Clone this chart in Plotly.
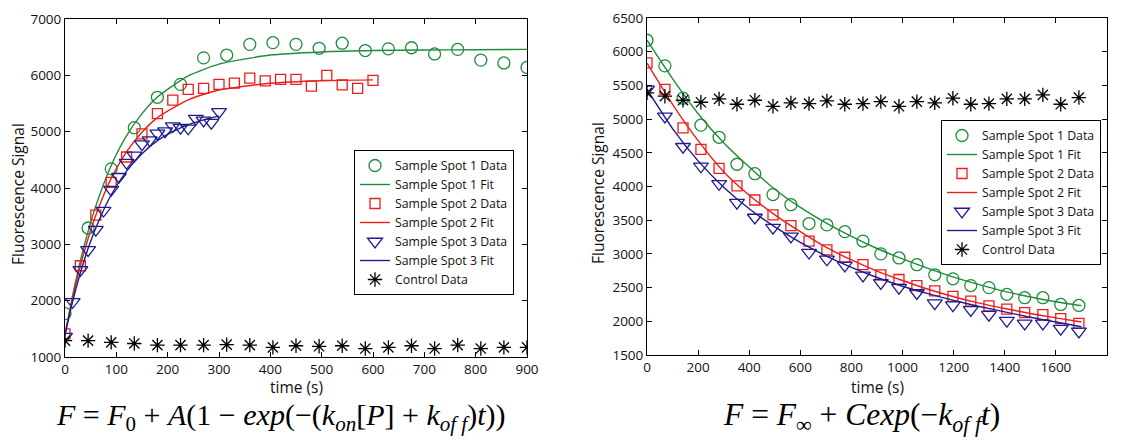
import plotly.graph_objects as go

# ---------------- Left panel (association) ----------------
t_spot1 = [0, 45, 90, 135, 180, 225, 270, 315, 360, 405, 450, 495, 540, 585, 630, 675, 720, 765, 810, 855, 900]
spot1 = [1770, 3290, 4340, 5070, 5610, 5840, 6310, 6360, 6550, 6580, 6550, 6480, 6570, 6440, 6470, 6490, 6380, 6460, 6270, 6220, 6140]
t_spot2 = [0, 30, 60, 90, 120, 150, 180, 210, 240, 270, 300, 330, 360, 390, 420, 450, 480, 510, 540, 570, 600]
spot2 = [1410, 2620, 3520, 4100, 4550, 4960, 5320, 5560, 5750, 5770, 5840, 5860, 5950, 5900, 5930, 5930, 5810, 6000, 5830, 5770, 5910]
t_spot3 = [0, 15, 30, 45, 60, 75, 90, 105, 120, 135, 150, 165, 180, 195, 210, 225, 240, 255, 270, 285, 300]
spot3 = [1360, 1980, 2545, 2900, 3260, 3600, 3970, 4200, 4450, 4580, 4780, 4850, 4970, 5010, 5100, 5070, 5060, 5230, 5200, 5160, 5350]
t_ctrl_l = [0, 45, 90, 135, 180, 225, 270, 315, 360, 405, 450, 495, 540, 585, 630, 675, 720, 765, 810, 855, 900]
ctrl_l = [1290, 1290, 1260, 1240, 1210, 1210, 1210, 1220, 1210, 1170, 1200, 1190, 1200, 1150, 1170, 1200, 1150, 1210, 1150, 1170, 1170]

t_fit1 = [0, 15, 30, 45, 60, 90, 120, 150, 180, 240, 300, 400, 500, 600, 700, 800, 900]
fit1 = [1400, 2100, 2710, 3230, 3680, 4400, 4930, 5320, 5615, 5990, 6200, 6360, 6415, 6440, 6450, 6455, 6460]
t_fit2 = [0, 15, 30, 45, 60, 90, 120, 150, 180, 240, 300, 400, 500, 600]
fit2 = [1400, 2060, 2620, 3105, 3515, 4170, 4645, 4990, 5250, 5565, 5740, 5860, 5905, 5920]
t_fit3 = [0, 15, 30, 45, 60, 90, 120, 150, 180, 210, 240, 270, 300]
fit3 = [1400, 1990, 2495, 2925, 3290, 3880, 4300, 4610, 4840, 5000, 5125, 5210, 5280]

# ---------------- Right panel (dissociation) ----------------
t_r = [0, 70, 141, 211, 282, 352, 422, 493, 563, 634, 704, 774, 845, 915, 986, 1056, 1126, 1197, 1267, 1338, 1408, 1478, 1549, 1619, 1690]
r_spot1 = [6170, 5790, 5310, 4910, 4730, 4330, 4190, 3880, 3730, 3450, 3430, 3330, 3190, 3000, 2940, 2840, 2690, 2630, 2530, 2500, 2400, 2350, 2350, 2250, 2235]
r_spot2 = [5835, 5440, 4870, 4550, 4270, 4010, 3800, 3580, 3420, 3190, 3060, 2950, 2840, 2690, 2620, 2530, 2450, 2370, 2300, 2230, 2180, 2130, 2100, 2040, 1970]
r_spot3 = [5440, 5040, 4590, 4300, 4040, 3760, 3540, 3390, 3260, 3020, 2920, 2830, 2680, 2570, 2500, 2420, 2270, 2240, 2170, 2100, 2010, 1970, 1970, 1890, 1850]
r_ctrl = [5390, 5340, 5280, 5250, 5300, 5220, 5280, 5190, 5240, 5230, 5270, 5220, 5230, 5260, 5190, 5260, 5240, 5310, 5220, 5230, 5300, 5300, 5360, 5220, 5320]

t_rfit = [0, 100, 200, 300, 400, 500, 600, 700, 800, 900, 1000, 1100, 1200, 1300, 1400, 1500, 1600, 1700]
r_fit1 = [6170, 5600, 5080, 4650, 4290, 3960, 3690, 3460, 3260, 3080, 2925, 2785, 2655, 2545, 2445, 2360, 2290, 2230]
r_fit2 = [5830, 5220, 4680, 4220, 3870, 3580, 3330, 3100, 2910, 2745, 2605, 2475, 2365, 2270, 2190, 2115, 2050, 1990]
r_fit3 = [5440, 4860, 4380, 3990, 3670, 3400, 3170, 2970, 2800, 2650, 2520, 2410, 2310, 2220, 2140, 2060, 1990, 1920]

names = ["Sample Spot 1 Data", "Sample Spot 1 Fit", "Sample Spot 2 Data", "Sample Spot 2 Fit",
         "Sample Spot 3 Data", "Sample Spot 3 Fit", "Control Data"]

GREEN = "#1f8c3b"
RED = "#f01c1c"
BLUE = "#1c1c8e"
BLACK = "#000000"
FONT = "Open Sans"

fig = go.Figure()


def add_panel(xa, ya, leg, d1, f1, d2, f2, d3, f3, ctrl):
    def sc(x, y, name, color, symbol, size):
        fig.add_trace(go.Scatter(
            x=x, y=y, name=name, mode="markers", xaxis=xa, yaxis=ya, legend=leg,
            marker=dict(symbol=symbol, size=size, color=color,
                        line=dict(color=color, width=1.3))))

    def ln(x, y, name, color):
        fig.add_trace(go.Scatter(
            x=x, y=y, name=name, mode="lines", xaxis=xa, yaxis=ya, legend=leg,
            line=dict(color=color, width=1.4, shape="spline", smoothing=0.6)))

    sc(d1[0], d1[1], names[0], GREEN, "circle-open", 12)
    ln(f1[0], f1[1], names[1], GREEN)
    sc(d2[0], d2[1], names[2], RED, "square-open", 10)
    ln(f2[0], f2[1], names[3], RED)
    sc(d3[0], d3[1], names[4], BLUE, "triangle-down-open", 13)
    ln(f3[0], f3[1], names[5], BLUE)
    sc(ctrl[0], ctrl[1], names[6], BLACK, "asterisk-open", 12)


add_panel("x", "y", "legend",
          (t_spot1, spot1), (t_fit1, fit1), (t_spot2, spot2), (t_fit2, fit2),
          (t_spot3, spot3), (t_fit3, fit3), (t_ctrl_l, ctrl_l))
add_panel("x2", "y2", "legend2",
          (t_r, r_spot1), (t_rfit, r_fit1), (t_r, r_spot2), (t_rfit, r_fit2),
          (t_r, r_spot3), (t_rfit, r_fit3), (t_r, r_ctrl))

# The page body adds an 8px margin; lay out in window pixels and convert.
OFF = 8
W, H = 1122 - OFF, 440 - OFF


def px(x):
    return (x - OFF) / W


def py(y):
    return 1 - (y - OFF) / H


axis_common = dict(showline=True, linecolor="black", linewidth=1, mirror="ticks",
                   ticks="inside", ticklen=5, tickcolor="black", showgrid=False,
                   zeroline=False, automargin=False,
                   tickfont=dict(family=FONT, size=13.5, color="#111"))

legend_common = dict(bordercolor="black", borderwidth=1, bgcolor="white",
                     font=dict(family=FONT, size=12.3, color="#111"),
                     xanchor="left", yanchor="top", tracegroupgap=0, itemwidth=30)

TITLE_FONT = dict(family=FONT, size=15.5, color="#111")

fig.update_layout(
    width=W, height=H,
    margin=dict(l=0, r=0, t=0, b=0, autoexpand=False),
    paper_bgcolor="white", plot_bgcolor="white",
    showlegend=True,
    xaxis=dict(domain=[px(65), px(527)], range=[0, 900], dtick=100, tick0=0,
               anchor="y", **axis_common),
    yaxis=dict(domain=[py(357), py(19)], range=[1000, 7000], dtick=1000, tick0=0,
               anchor="x", **axis_common),
    xaxis2=dict(domain=[px(647), px(1107)], range=[0, 1800], dtick=200, tick0=0,
                anchor="y2", **axis_common),
    yaxis2=dict(domain=[py(355), py(18)], range=[1500, 6500], dtick=500, tick0=0,
                anchor="x2", **axis_common),
    legend=dict(x=px(354), y=py(150), **legend_common),
    legend2=dict(x=px(941), y=py(120), **legend_common),
)

# axis titles
for txt, x, y, ang in [("time (s)", 296, 387, 0), ("time (s)", 877, 387, 0),
                       ("Fluorescence Signal", 18, 194, -90), ("Fluorescence Signal", 598, 193, -90)]:
    fig.add_annotation(text=txt, xref="paper", yref="paper", x=px(x), y=py(y),
                       showarrow=False, textangle=ang, xanchor="center", yanchor="middle",
                       font=TITLE_FONT)

MATH = "Liberation Serif"
fig.add_annotation(
    text="<i>F</i> = <i>F</i><sub>0</sub> + <i>A</i>(1 − <i>exp</i>(−(<i>k</i><sub><i>on</i></sub>[<i>P</i>] + <i>k</i><sub><i>of f</i></sub>)<i>t</i>))",
    xref="paper", yref="paper", x=px(280), y=py(417), showarrow=False,
    xanchor="center", yanchor="middle", font=dict(family=MATH, size=30, color="black"))
fig.add_annotation(
    text="<i>F</i> = <i>F</i><sub>∞</sub> + <i>Cexp</i>(−<i>k</i><sub><i>of f</i></sub><i>t</i>)",
    xref="paper", yref="paper", x=px(861), y=py(417), showarrow=False,
    xanchor="center", yanchor="middle", font=dict(family=MATH, size=31.5, color="black"))

fig.write_html("out.html")
